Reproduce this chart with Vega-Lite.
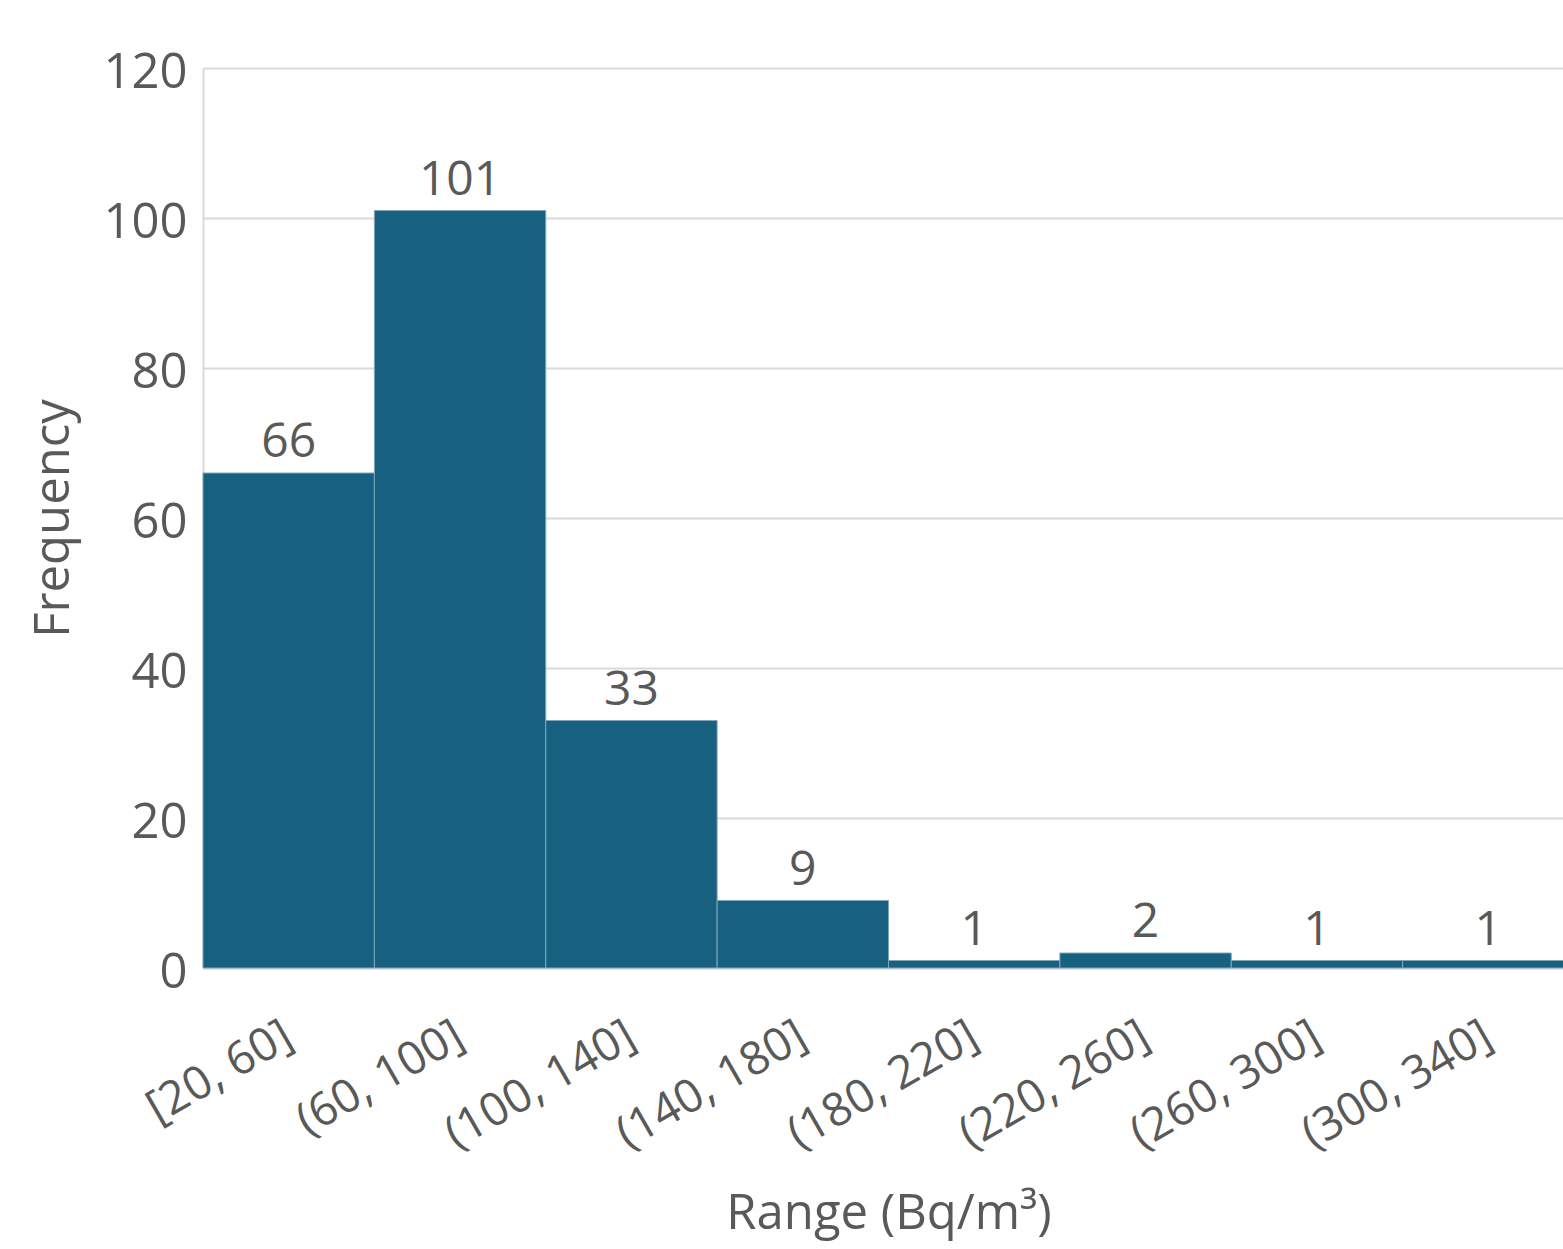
{
  "$schema": "https://vega.github.io/schema/vega-lite/v6.json",
  "autosize": "none",
  "width": 1371,
  "height": 900,
  "padding": {"left": 203, "top": 68, "right": -11, "bottom": 281},
  "background": "white",
  "config": {
    "font": "Open Sans",
    "view": {"stroke": null},
    "axis": {"labelColor": "#595959", "titleColor": "#595959", "titleFontWeight": "normal"}
  },
  "data": {
    "values": [
      {"range": "[20, 60]", "freq": 66},
      {"range": "(60, 100]", "freq": 101},
      {"range": "(100, 140]", "freq": 33},
      {"range": "(140, 180]", "freq": 9},
      {"range": "(180, 220]", "freq": 1},
      {"range": "(220, 260]", "freq": 2},
      {"range": "(260, 300]", "freq": 1},
      {"range": "(300, 340]", "freq": 1}
    ]
  },
  "encoding": {
    "x": {
      "field": "range",
      "type": "nominal",
      "sort": null,
      "scale": {"paddingInner": 0, "paddingOuter": 0},
      "axis": {
        "title": "Range (Bq/m³)",
        "titleFontSize": 49,
        "titlePadding": 32,
        "labelFontSize": 46,
        "labelAngle": -30,
        "labelAlign": "right",
        "labelBaseline": "middle",
        "labelPadding": 64,
        "labelLimit": 0,
        "ticks": false,
        "domainColor": "#d9d9d9",
        "domainWidth": 2,
        "grid": false
      }
    },
    "y": {
      "field": "freq",
      "type": "quantitative",
      "scale": {"domain": [0, 120]},
      "axis": {
        "title": "Frequency",
        "titleFontSize": 49,
        "titlePadding": 24,
        "labelFontSize": 49,
        "labelPadding": 16,
        "labelOffset": 4,
        "values": [0, 20, 40, 60, 80, 100, 120],
        "ticks": false,
        "domainColor": "#d9d9d9",
        "domainWidth": 2,
        "gridColor": "#d9d9d9",
        "gridWidth": 2
      }
    }
  },
  "layer": [
    {
      "mark": {"type": "bar", "color": "#17607f", "stroke": "#7fa7bb", "strokeWidth": 1}
    },
    {
      "mark": {"type": "text", "baseline": "bottom", "dy": -6, "fontSize": 48, "color": "#595959"},
      "encoding": {"text": {"field": "freq", "type": "quantitative"}}
    }
  ]
}
